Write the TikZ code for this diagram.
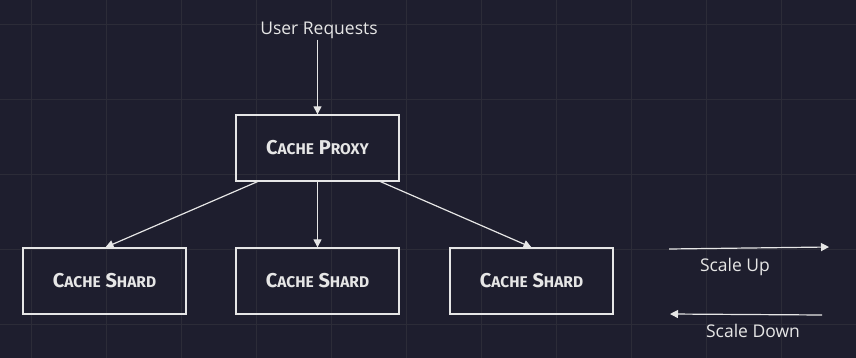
\documentclass[tikz,border=0pt]{standalone}
\usepackage{fontspec}
\setmainfont{Open Sans}
\newfontfamily\boxfont{Fira Sans}
\usetikzlibrary{arrows.meta}
\definecolor{bg}{HTML}{1E1E2E}
\definecolor{gridc}{HTML}{2C2C38}
\definecolor{ink}{HTML}{E6E6E6}
\newcommand{\smc}[2]{#1{\fontsize{15.5}{17}\selectfont #2}}
\begin{document}
\begin{tikzpicture}[x=1pt,y=-1pt,
  box/.style={draw=ink,line width=1.3pt,minimum width=163pt,minimum height=66pt,inner sep=0pt,
    text=ink,font=\boxfont\bfseries\fontsize{20}{23}\selectfont},
  lbl/.style={text=ink,font=\fontsize{17.5}{20}\selectfont,inner sep=1pt},
  conn/.style={draw=ink,line width=1.2pt,-{Triangle[length=8pt,width=8pt]}}]
\fill[bg] (0,0) rectangle (856,358);
\useasboundingbox (0,0) rectangle (856,358);
\foreach \x in {31,106,...,856} \draw[gridc,line width=0.8pt] (\x,0) -- (\x,358);
\foreach \y in {24,99,...,358} \draw[gridc,line width=0.8pt] (0,\y) -- (856,\y);

\node[lbl] (user) at (319,30) {User Requests};
\node[box] (proxy) at (317.5,148) {\smc{C}{ACHE} \smc{P}{ROXY}};
\node[box] (s1) at (104.5,281) {\smc{C}{ACHE} \smc{S}{HARD}};
\node[box] (s2) at (317.5,281) {\smc{C}{ACHE} \smc{S}{HARD}};
\node[box] (s3) at (531.5,281) {\smc{C}{ACHE} \smc{S}{HARD}};

\draw[conn] (user.south -| proxy.north) -- (proxy.north);
\draw[conn] ([xshift=-60pt]proxy.south) -- ([xshift=1pt]s1.north);
\draw[conn] (proxy.south) -- (s2.north);
\draw[conn] ([xshift=63pt]proxy.south) -- (s3.north);

\coordinate (upa) at (669,249);
\coordinate (upb) at (829,247);
\coordinate (dna) at (822,315);
\coordinate (dnb) at (670,314);
\draw[conn] (upa) -- (upb);
\draw[conn] (dna) -- (dnb);
\node[lbl] (uplbl) at (735,267) {Scale Up};
\node[lbl] (dnlbl) at (753,331) {Scale Down};
\end{tikzpicture}
\end{document}
